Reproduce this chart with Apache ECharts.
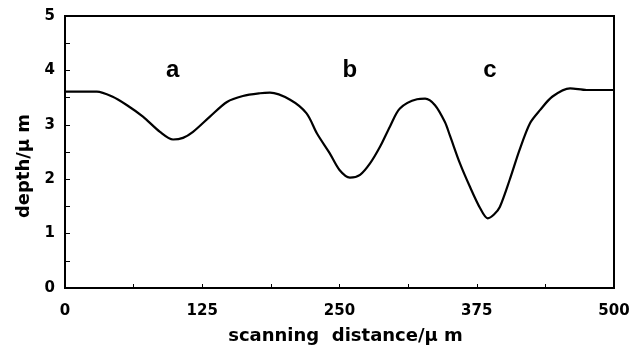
<!DOCTYPE html>
<html lang="en">
<head>
    <meta charset="UTF-8">
    <script src="https://cdn.jsdelivr.net/npm/echarts@6/dist/echarts.min.js"></script>
    <title>depth profile</title>
    <style>
        html, body { margin: 0; padding: 0; background: #fff; }
    </style>
</head>
<body>
<div id="chart" style="width: 629px;height:347px;"></div>
<script type="text/javascript">
    // scanning distance (μm)
    var distance = [0, 29, 43, 56.5, 71, 86.5, 98.4, 107.5, 116.6, 132, 147.5, 162, 177.6, 186.7,
        205, 220, 229.5, 241, 250, 259.5, 268.7, 277.8, 287, 296, 305, 320.6, 328, 337, 346,
        350.6, 359.7, 368.8, 378, 385, 390.7, 396, 405, 414, 423.5, 432.6, 444, 460, 475, 500];
    // depth (μm)
    var depth = [3.61, 3.61, 3.52, 3.36, 3.15, 2.87, 2.73, 2.76, 2.87, 3.15, 3.42, 3.53, 3.58, 3.59,
        3.46, 3.21, 2.84, 2.48, 2.17, 2.03, 2.08, 2.29, 2.60, 2.97, 3.30, 3.47, 3.48, 3.36, 3.05,
        2.80, 2.29, 1.86, 1.47, 1.28, 1.35, 1.49, 1.99, 2.54, 3.03, 3.27, 3.52, 3.67, 3.64, 3.64];
    // peak labels
    var peakNames = ['a', 'b', 'c'];
    var peakX = [98, 259.5, 387];
    var peakY = [4.0, 4.0, 4.0];

    var font = '"DejaVu Sans", sans-serif';
    var letterFont = '"Liberation Sans", Arial, sans-serif';
    var myChart = echarts.init(document.getElementById('chart'));
    var lineData = distance.map(function (d, i) { return [d, depth[i]]; });
    var peakData = peakNames.map(function (n, i) { return { name: n, value: [peakX[i], peakY[i]] }; });

    var option = {
        animation: false,
        grid: {
            left: 65, right: 15, top: 16, bottom: 59,
            outerBoundsMode: 'none',
            containLabel: false,
            show: true,
            borderColor: '#000',
            borderWidth: 2
        },
        xAxis: {
            type: 'value',
            min: 0, max: 500, interval: 125,
            name: 'scanning  distance/μ m',
            nameLocation: 'middle',
            nameGap: 39,
            nameTextStyle: { color: '#000', fontSize: 18, fontWeight: 'bold', fontFamily: font, padding: [0, 0, 0, 12] },
            splitLine: { show: false },
            axisLine: { lineStyle: { color: '#000', width: 2 } },
            axisTick: { inside: true, length: 4, lineStyle: { color: '#000' } },
            minorTick: { show: true, splitNumber: 2, length: 4, lineStyle: { color: '#000' } },
            axisLabel: { color: '#000', fontSize: 15, fontWeight: 'bold', fontFamily: font, margin: 16 }
        },
        yAxis: {
            type: 'value',
            min: 0, max: 5, interval: 1,
            name: 'depth/μ m',
            nameLocation: 'middle',
            nameGap: 30,
            nameTextStyle: { color: '#000', fontSize: 18, fontWeight: 'bold', fontFamily: font, padding: [0, 28, 0, 0] },
            splitLine: { show: false },
            axisLine: { show: true, lineStyle: { color: '#000', width: 2 } },
            axisTick: { show: true, inside: true, length: 5, lineStyle: { color: '#000' } },
            minorTick: { show: true, splitNumber: 2, length: 5, lineStyle: { color: '#000' } },
            axisLabel: { color: '#000', fontSize: 15, fontWeight: 'bold', fontFamily: font, margin: 10 }
        },
        series: [
            {
                type: 'line',
                data: lineData,
                smooth: 0.3,
                showSymbol: false,
                lineStyle: { color: '#000', width: 2.2 }
            },
            {
                type: 'scatter',
                data: peakData,
                symbolSize: 0,
                itemStyle: { opacity: 1, color: '#000' },
                label: {
                    show: true,
                    position: 'inside',
                    formatter: '{b}',
                    color: '#000',
                    opacity: 1,
                    textBorderWidth: 0,
                    fontSize: 24,
                    fontWeight: 'bold',
                    fontFamily: letterFont
                }
            }
        ]
    };
    myChart.setOption(option);
</script>
</body>
</html>
